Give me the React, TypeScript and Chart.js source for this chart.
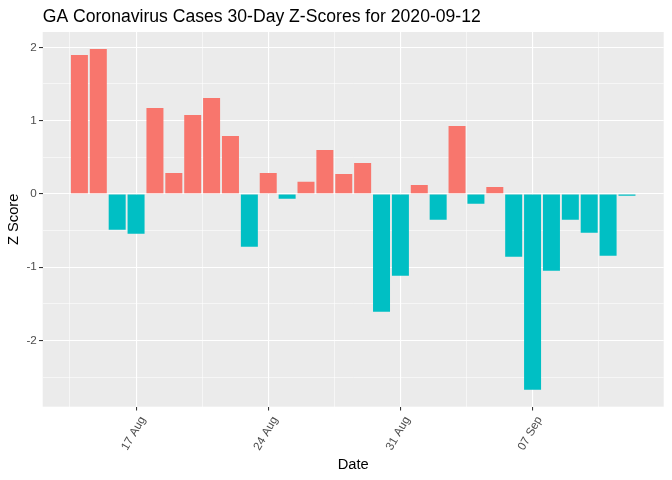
import React, { useEffect, useRef } from "react";
import { Chart, registerables } from "chart.js";

Chart.register(...registerables);

const titleText = "GA Coronavirus Cases 30-Day Z-Scores for 2020-09-12";

const dates = [
  "2020-08-14", "2020-08-15", "2020-08-16", "2020-08-17", "2020-08-18",
  "2020-08-19", "2020-08-20", "2020-08-21", "2020-08-22", "2020-08-23",
  "2020-08-24", "2020-08-25", "2020-08-26", "2020-08-27", "2020-08-28",
  "2020-08-29", "2020-08-30", "2020-08-31", "2020-09-01", "2020-09-02",
  "2020-09-03", "2020-09-04", "2020-09-05", "2020-09-06", "2020-09-07",
  "2020-09-08", "2020-09-09", "2020-09-10", "2020-09-11", "2020-09-12",
];

const zScores = [
  1.895, 1.977, -0.49, -0.545, 1.172,
  0.286, 1.077, 1.309, 0.791, -0.72,
  0.286, -0.068, 0.164, 0.6, 0.273,
  0.423, -1.609, -1.118, 0.123, -0.354,
  0.927, -0.136, 0.095, -0.859, -2.672,
  -1.05, -0.354, -0.532, -0.845, -0.027,
];

const xTickDates = ["2020-08-17", "2020-08-24", "2020-08-31", "2020-09-07"];
const xTickLabels = ["17 Aug", "24 Aug", "31 Aug", "07 Sep"];
const xMinorDates = ["2020-08-13T12", "2020-08-20T12", "2020-08-27T12", "2020-09-03T12", "2020-09-10T12"];

const yMajorTicks = [-2, -1, 0, 1, 2];
const yMinorTicks = [-2.5, -1.5, -0.5, 0.5, 1.5];

const POS = "#F8766D";
const NEG = "#00BFC4";
const FONT = "'Liberation Sans', Arial, sans-serif";

const dayNum = (s: string) => {
  const iso = s.length > 10 ? s + ":00:00Z" : s + "T00:00:00Z";
  return Date.parse(iso) / 86400000;
};

export default function App() {
  const ref = useRef<HTMLCanvasElement | null>(null);

  useEffect(() => {
    if (!ref.current) return;
    const xs = dates.map(dayNum);
    const xMajor = xTickDates.map(dayNum);
    const xMinor = xMinorDates.map(dayNum);
    const xMajorSet = new Set(xMajor);
    const ySet = new Set(yMajorTicks);

    const lo = Math.min(...xs) - 0.45;
    const hi = Math.max(...xs) + 0.45;
    const xpad = (hi - lo) * 0.05;
    const yLo = Math.min(...zScores);
    const yHi = Math.max(...zScores);
    const ypad = (yHi - yLo) * 0.05;

    const bgPlugin = {
      id: "ggbg",
      beforeDraw(chart: any) {
        const { ctx, chartArea } = chart;
        ctx.save();
        ctx.fillStyle = "#EBEBEB";
        ctx.fillRect(chartArea.left, chartArea.top, chartArea.right - chartArea.left, chartArea.bottom - chartArea.top);
        ctx.fillStyle = "#000000";
        ctx.font = `17.6px ${FONT}`;
        ctx.textAlign = "left";
        ctx.textBaseline = "alphabetic";
        ctx.fillText(titleText, chartArea.left, 22);
        ctx.restore();
      },
    };

    const chart = new Chart(ref.current, {
      type: "bar",
      data: {
        datasets: [
          {
            data: dates.map((d, i) => ({ x: dayNum(d), y: zScores[i] })),
            backgroundColor: zScores.map((v) => (v >= 0 ? POS : NEG)),
            borderWidth: 0,
            barPercentage: 0.9,
            categoryPercentage: 1,
          },
        ],
      },
      options: {
        responsive: false,
        animation: false,
        devicePixelRatio: 1,
        layout: { padding: { top: 32, right: 8.3, left: 0, bottom: 0 } },
        plugins: {
          legend: { display: false },
          tooltip: { enabled: false },
          title: { display: false },
        },
        scales: {
          x: {
            type: "linear",
            offset: false,
            min: lo - xpad,
            max: hi + xpad,
            afterBuildTicks: (scale: any) => {
              scale.ticks = [...xMajor, ...xMinor].sort((a, b) => a - b).map((v) => ({ value: v }));
            },
            afterFit: (scale: any) => {
              scale.height = 73.3;
            },
            border: { display: false },
            grid: {
              offset: false,
              color: "#FFFFFF",
              lineWidth: (ctx: any) => (ctx.tick && xMajorSet.has(ctx.tick.value) ? 1.1 : 0.55),
              tickColor: (ctx: any) => (ctx.tick && xMajorSet.has(ctx.tick.value) ? "#333333" : "rgba(0,0,0,0)"),
              tickLength: 3.7,
              tickWidth: 1.07,
              drawTicks: true,
            },
            ticks: {
              autoSkip: false,
              minRotation: 60,
              maxRotation: 60,
              padding: 3.5,
              labelOffset: 7,
              color: "#4D4D4D",
              font: { family: FONT, size: 11.7 },
              callback: (v: any) => {
                const i = xMajor.indexOf(Number(v));
                return i >= 0 ? xTickLabels[i] : "";
              },
            },
            title: {
              display: true,
              text: "Date",
              color: "#000000",
              font: { family: FONT, size: 14.7 },
              padding: { top: 0, bottom: 6.5 },
            },
          },
          y: {
            type: "linear",
            min: yLo - ypad,
            max: yHi + ypad,
            afterBuildTicks: (scale: any) => {
              scale.ticks = [...yMajorTicks, ...yMinorTicks].sort((a, b) => a - b).map((v) => ({ value: v }));
            },
            afterFit: (scale: any) => {
              scale.width = 42.7;
            },
            border: { display: false },
            grid: {
              color: "#FFFFFF",
              lineWidth: (ctx: any) => (ctx.tick && ySet.has(ctx.tick.value) ? 1.1 : 0.55),
              tickColor: (ctx: any) => (ctx.tick && ySet.has(ctx.tick.value) ? "#333333" : "rgba(0,0,0,0)"),
              tickLength: 3.7,
              tickWidth: 1.07,
              drawTicks: true,
            },
            ticks: {
              padding: 2.2,
              color: "#4D4D4D",
              font: { family: FONT, size: 11.7 },
              callback: (v: any) => (ySet.has(Number(v)) ? String(v) : ""),
            },
            title: {
              display: true,
              text: "Z Score",
              color: "#000000",
              font: { family: FONT, size: 14.7 },
              padding: { top: 5.4, bottom: 0 },
            },
          },
        },
      },
      plugins: [bgPlugin],
    } as any);

    return () => chart.destroy();
  }, []);

  return (
    <div style={{ position: "fixed", left: 0, top: 0, width: 672, height: 480, background: "#FFFFFF" }}>
      <canvas ref={ref} width={672} height={480} style={{ width: 672, height: 480 }} />
    </div>
  );
}
